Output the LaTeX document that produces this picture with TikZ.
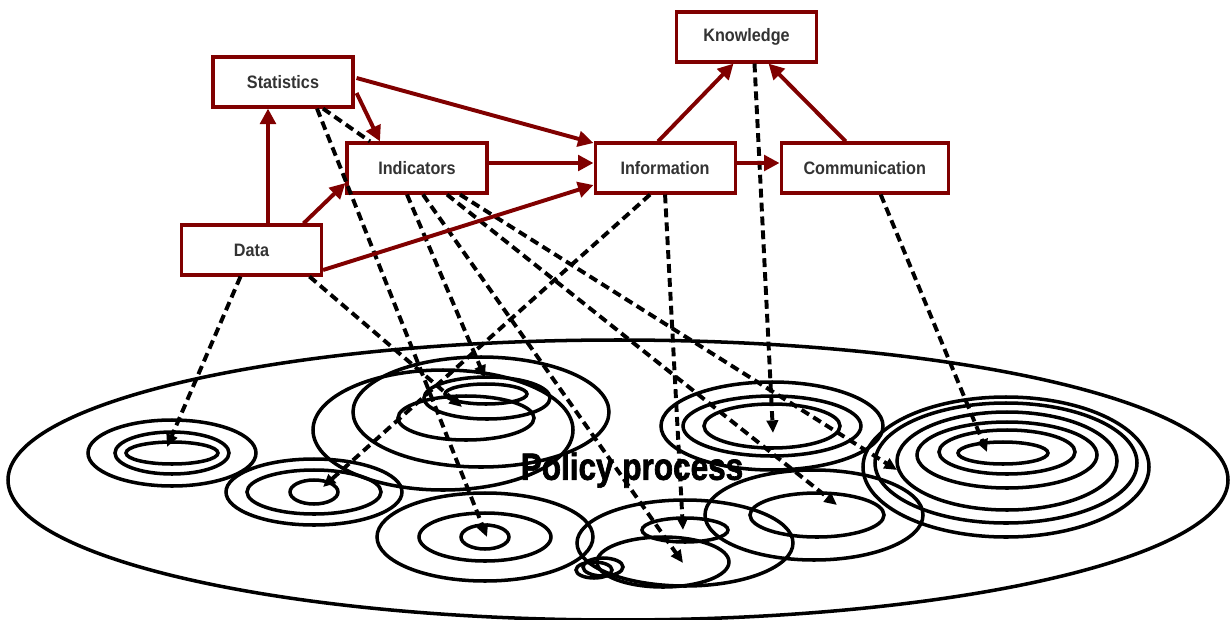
\documentclass[tikz,border=0pt]{standalone}
\usepackage{fontspec}
\setmainfont{Liberation Sans}
\newfontfamily\labelfont[FakeStretch=0.9]{Liberation Sans}
\newfontfamily\headfont[FakeStretch=0.83, BoldFeatures={FakeBold=1.8}]{Liberation Sans}
\usetikzlibrary{positioning,calc,arrows.meta}
\definecolor{boxred}{RGB}{128,0,0}
\tikzstyle{box} = [draw=boxred, line width=2.2pt, fill=white, minimum width=3.5cm, minimum height=1.25cm, inner sep=0pt, text=black!80, font=\labelfont\bfseries\fontsize{12.8}{15}\selectfont]
\tikzstyle{link} = [draw=boxred, line width=2.8pt, -{Triangle[length=11pt,width=11pt]}]
\tikzstyle{feed} = [draw, line width=2.8pt, dash pattern=on 6.3pt off 3.6pt, -{Triangle[length=9pt,width=8pt]}]
\tikzstyle{ring} = [draw, line width=2.5pt]

\begin{document}
\begin{tikzpicture}[x=0.025cm, y=-0.025cm]
  \useasboundingbox (0,0) rectangle (1231,619);
  % policy process field
  \draw[ring] (618,480) ellipse [x radius=610, y radius=140];
  \foreach \rx/\ry in {84/33,57/21,46/11} \draw[ring] (172,453) ellipse [x radius=\rx, y radius=\ry];
  \foreach \rx/\ry in {88/33,67/22,24/12} \draw[ring] (314,492) ellipse [x radius=\rx, y radius=\ry];
  \draw[ring] (443,430) ellipse [x radius=130, y radius=60];
  \draw[ring] (481,412) ellipse [x radius=128, y radius=55];
  \draw[ring] (466,418) ellipse [x radius=68, y radius=22];
  \draw[ring] (487,398) ellipse [x radius=63, y radius=21];
  \draw[ring] (486,394) ellipse [x radius=41, y radius=10];
  \foreach \rx/\ry in {108/44,66/24,24/12} \draw[ring] (485,537) ellipse [x radius=\rx, y radius=\ry];
  \draw[ring] (685,543) ellipse [x radius=108, y radius=43];
  \draw[ring] (663,562) ellipse [x radius=66, y radius=25];
  \draw[ring] (685,530) ellipse [x radius=43, y radius=12];
  \draw[ring] (594,570) ellipse [x radius=18, y radius=8];
  \draw[ring] (603,567) ellipse [x radius=20, y radius=9];
  \foreach \rx/\ry in {111/44,89/30,68/22} \draw[ring] (772,426) ellipse [x radius=\rx, y radius=\ry];
  \draw[ring] (814,515) ellipse [x radius=109, y radius=45];
  \draw[ring] (817,515) ellipse [x radius=67, y radius=22];
  \draw[ring] (1006,467) ellipse [x radius=143, y radius=70];
  \draw[ring] (1006,463) ellipse [x radius=131, y radius=60];
  \draw[ring] (1007,461) ellipse [x radius=110, y radius=49];
  \draw[ring] (1007,455) ellipse [x radius=90, y radius=33];
  \draw[ring] (1007,452) ellipse [x radius=68, y radius=22];
  \draw[ring] (1003,453) ellipse [x radius=45, y radius=11];
  \node[font=\headfont\bfseries\fontsize{27}{30}\selectfont] (policy) at (632,470) {Policy process};

  % boxes
  \node[box] (stat) at (283,82) {Statistics};
  \node[box] (data) at (251.5,250) {Data};
  \node[box] (ind) at (417,168) {Indicators};
  \node[box, right of=ind, node distance=6.2cm] (info) {Information};
  \node[box, minimum width=4.18cm, right of=info, node distance=4.99cm] (comm) {Communication};
  \node[box] (know) at (746.5,37) {Knowledge};

  % targets in the field
  \coordinate (leftgrp) at (167,447);
  \coordinate (smallgrp) at (323,487);
  \coordinate (topgrp) at (462,407);
  \coordinate (topring) at (485,378);
  \coordinate (lowgrp) at (487,537);
  \coordinate (midgrp) at (683,530);
  \coordinate (midlow) at (683,563);
  \coordinate (rightgrp) at (773,433);
  \coordinate (rightlow) at (837,505);
  \coordinate (bigside) at (897,470);
  \coordinate (bigcore) at (987,452);

  % dashed flows
  \draw[feed] ($(data.south)+(-11,0)$) -- (leftgrp);
  \draw[feed] ($(data.south)+(58,0)$) -- (topgrp);
  \draw[feed] ($(stat.south)+(34,0)$) -- (lowgrp);
  \draw[feed, -] ($(stat.south)+(40,0)$) -- ($(ind.north)+(-47,0)$);
  \draw[feed] ($(ind.south)+(-10,0)$) -- (topring);
  \draw[feed] ($(ind.south)+(6,0)$) -- (midlow);
  \draw[feed] ($(ind.south)+(30,0)$) -- (rightlow);
  \draw[feed] ($(ind.south)+(43,0)$) -- (bigside);
  \draw[feed] ($(info.south)+(-15,0)$) -- (smallgrp);
  \draw[feed] (info.south) -- (midgrp);
  \draw[feed] ($(know.south)+(8,0)$) -- (rightgrp);
  \draw[feed] ($(comm.south)+(16,0)$) -- (bigcore);

  % red links
  \draw[link] ($(data.north)+(16.5,0)$) -- ($(stat.south)+(-15,0)$);
  \draw[link] ($(data.north)+(52,0)$) -- ($(ind.west)+(0,15)$);
  \draw[link] ($(data.east)+(0,20)$) -- ($(info.west)+(0,17)$);
  \draw[link] ($(stat.east)+(2,11)$) -- ($(ind.north)+(-37,0)$);
  \draw[link] ($(stat.east)+(2,-4)$) -- ($(info.west)+(0,-25)$);
  \draw[link] ($(ind.east)+(0,-5)$) -- ($(info.west)+(0,-5)$);
  \draw[link] ($(info.east)+(0,-5)$) -- ($(comm.west)+(0,-5)$);
  \draw[link] ($(info.north)+(-7,0)$) -- ($(know.south)+(-13,0)$);
  \draw[link] ($(comm.north)+(-19,0)$) -- ($(know.south)+(22,0)$);
\end{tikzpicture}
\end{document}
